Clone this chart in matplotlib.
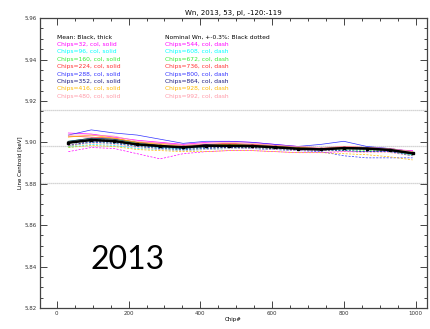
"""
plot.py draws line centroid vs chip for 2013.
"""

import numpy as np
import matplotlib.pyplot as plt
from matplotlib.ticker import MultipleLocator

chips = [32, 96, 160, 224, 288, 352, 416, 480, 544, 608, 672, 736, 800, 864, 928, 992]

mean = [5.8998, 5.9011, 5.9006, 5.8990, 5.8982, 5.8976, 5.8983, 5.8983,
        5.8982, 5.8976, 5.8969, 5.8966, 5.8972, 5.8970, 5.8963, 5.8947]

nominal = 5.898
nominal_pct = 0.003

series_colors = ["#ff00ff", "#00ffff", "#33ee33", "#ff3030",
                 "#3333ff", "#1a1a80", "#ffbb00", "#ff9aa8"]

solid_labels = ["Chips=32, col, solid", "Chips=96, col, solid", "Chips=160, col, solid",
                "Chips=224, col, solid", "Chips=288, col, solid", "Chips=352, col, solid",
                "Chips=416, col, solid", "Chips=480, col, solid"]
dash_labels = ["Chips=544, col, dash", "Chips=608, col, dash", "Chips=672, col, dash",
               "Chips=736, col, dash", "Chips=800, col, dash", "Chips=864, col, dash",
               "Chips=928, col, dash", "Chips=992, col, dash"]

solid_series = [
    [5.9045, 5.9040, 5.9025, 5.9010, 5.9000, 5.8990, 5.9000, 5.9005, 5.9000, 5.8990, 5.8980, 5.8970, 5.8975, 5.8970, 5.8965, 5.8960],
    [5.9000, 5.9015, 5.9010, 5.8990, 5.8975, 5.8970, 5.8980, 5.8985, 5.8980, 5.8975, 5.8970, 5.8965, 5.8970, 5.8965, 5.8960, 5.8940],
    [5.9005, 5.9020, 5.9015, 5.8995, 5.8980, 5.8975, 5.8985, 5.8990, 5.8985, 5.8980, 5.8975, 5.8970, 5.8975, 5.8970, 5.8965, 5.8945],
    [5.9030, 5.9025, 5.9020, 5.9000, 5.8995, 5.8985, 5.8990, 5.8995, 5.8990, 5.8985, 5.8975, 5.8970, 5.8980, 5.8975, 5.8970, 5.8955],
    [5.9035, 5.9060, 5.9045, 5.9035, 5.9015, 5.8995, 5.9005, 5.9005, 5.9000, 5.8990, 5.8980, 5.8990, 5.9005, 5.8980, 5.8970, 5.8955],
    [5.9005, 5.9020, 5.9015, 5.9000, 5.8985, 5.8975, 5.8990, 5.8990, 5.8985, 5.8980, 5.8975, 5.8970, 5.8975, 5.8975, 5.8965, 5.8945],
    [5.9025, 5.9035, 5.9020, 5.9000, 5.8990, 5.8980, 5.8985, 5.8990, 5.8985, 5.8980, 5.8975, 5.8970, 5.8975, 5.8970, 5.8965, 5.8955],
    [5.9035, 5.9035, 5.9030, 5.9005, 5.8995, 5.8985, 5.8995, 5.9000, 5.8995, 5.8985, 5.8980, 5.8975, 5.8980, 5.8975, 5.8970, 5.8955],
]

dash_series = [
    [5.8955, 5.8975, 5.8970, 5.8945, 5.8920, 5.8945, 5.8955, 5.8960, 5.8960, 5.8955, 5.8950, 5.8950, 5.8955, 5.8955, 5.8955, 5.8945],
    [5.8975, 5.8990, 5.8985, 5.8970, 5.8965, 5.8960, 5.8965, 5.8970, 5.8970, 5.8965, 5.8960, 5.8960, 5.8960, 5.8955, 5.8955, 5.8935],
    [5.8980, 5.9000, 5.8995, 5.8980, 5.8970, 5.8965, 5.8970, 5.8975, 5.8975, 5.8970, 5.8965, 5.8965, 5.8965, 5.8960, 5.8960, 5.8940],
    [5.9000, 5.9015, 5.9010, 5.8990, 5.8980, 5.8975, 5.8980, 5.8980, 5.8980, 5.8975, 5.8970, 5.8965, 5.8970, 5.8965, 5.8960, 5.8945],
    [5.8985, 5.9000, 5.8995, 5.8980, 5.8970, 5.8965, 5.8970, 5.8975, 5.8970, 5.8965, 5.8960, 5.8955, 5.8935, 5.8925, 5.8925, 5.8925],
    [5.8985, 5.9005, 5.9000, 5.8985, 5.8975, 5.8970, 5.8975, 5.8975, 5.8975, 5.8970, 5.8965, 5.8960, 5.8960, 5.8955, 5.8955, 5.8935],
    [5.8975, 5.8985, 5.8980, 5.8965, 5.8960, 5.8955, 5.8955, 5.8960, 5.8960, 5.8955, 5.8950, 5.8950, 5.8945, 5.8940, 5.8930, 5.8915],
    [5.8985, 5.8995, 5.8990, 5.8975, 5.8965, 5.8960, 5.8965, 5.8970, 5.8970, 5.8965, 5.8960, 5.8960, 5.8955, 5.8950, 5.8950, 5.8935],
]

title = "Wn, 2013, 53, pl, -120:-119"

# --- figure ---
fig = plt.figure(figsize=(4.30, 3.29), dpi=100)
ax = fig.add_axes([0.093, 0.064, 0.900, 0.881])

# nominal value and +-0.3% band
for v in [nominal * (1 + nominal_pct), nominal, nominal * (1 - nominal_pct)]:
    ax.axhline(v, color="#c8c8c8", lw=0.9, ls=(0, (1, 0.6)), zorder=1)

for ys, c in zip(solid_series, series_colors):
    ax.plot(chips, ys, color=c, lw=0.5, ls="-", zorder=2)
for ys, c in zip(dash_series, series_colors):
    ax.plot(chips, ys, color=c, lw=0.5, ls=(0, (3, 2)), zorder=2)

ax.plot(chips, mean, color="black", lw=1.8, marker="s", ms=2, zorder=3)

ax.set_xlim(-47, 1032)
ax.set_ylim(5.82, 5.96)
ax.xaxis.set_major_locator(MultipleLocator(200))
ax.xaxis.set_minor_locator(MultipleLocator(50))
ax.yaxis.set_major_locator(MultipleLocator(0.02))
ax.yaxis.set_minor_locator(MultipleLocator(0.005))
ax.yaxis.set_major_formatter(plt.FormatStrFormatter("%.2f"))
ax.tick_params(which="both", direction="in", top=True, right=True,
               labelsize=4, width=0.7, color="#444444", labelcolor="#333333", pad=2)
ax.tick_params(which="major", length=5)
ax.tick_params(which="minor", length=2.5)
for s in ax.spines.values():
    s.set_linewidth(0.9)
    s.set_color("#444444")

ax.set_title(title, fontsize=5, pad=2)
ax.set_xlabel("Chip#", fontsize=4, labelpad=1)
ax.set_ylabel("Line Centroid [keV]", fontsize=4, labelpad=2)

# --- text legend ---
fig.text(57 / 430, 1 - 37 / 329, "Mean: Black, thick", fontsize=4.3, va="center")
fig.text(165 / 430, 1 - 37 / 329, "Nominal Wn, +-0.3%: Black dotted", fontsize=4.3, va="center")
for i, c in enumerate(series_colors):
    y = 1 - (44.5 + 7.4 * i) / 329
    fig.text(57 / 430, y, solid_labels[i], fontsize=4.3, color=c, va="center")
    fig.text(165 / 430, y, dash_labels[i], fontsize=4.3, color=c, va="center")

fig.text(90 / 430, 1 - 260 / 329, "2013", fontsize=23, family="Lato", va="center")

fig.savefig("out.png", dpi=100)
